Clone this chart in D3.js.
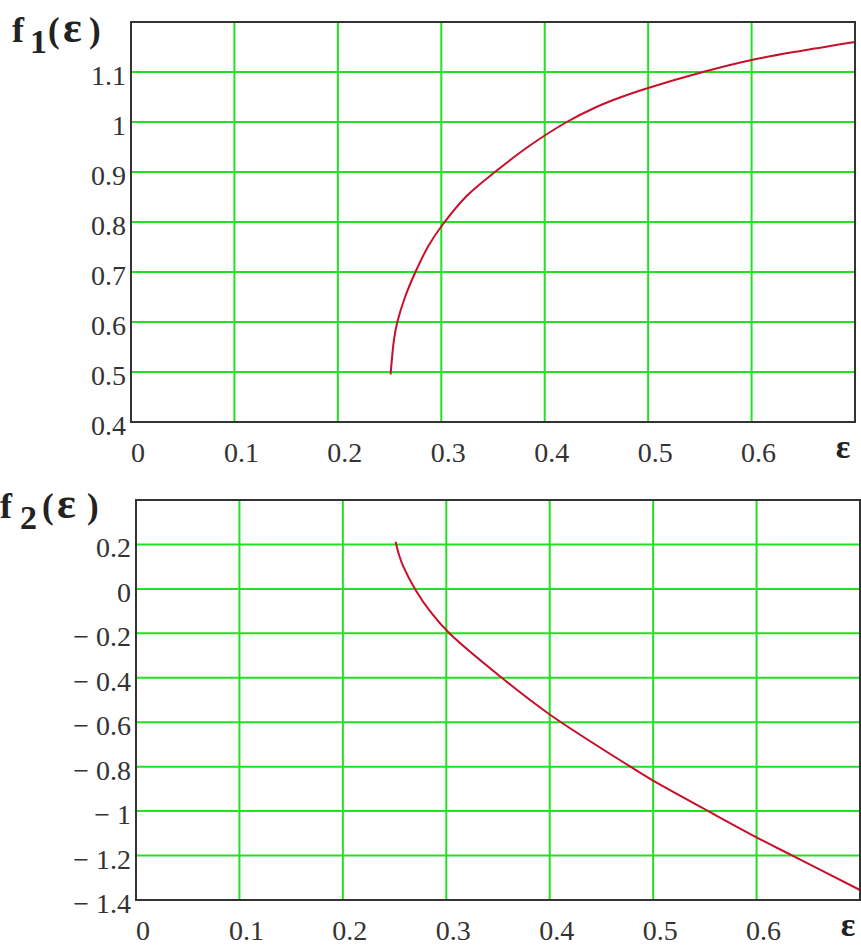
<!DOCTYPE html>
<html><head><meta charset="utf-8">
<script src="https://cdn.jsdelivr.net/npm/d3@7"></script>
<style>body{margin:0;background:#fff}</style>
</head><body><svg id="c" width="861" height="946"></svg>
<script>
// ---- data ----
const xTicks = [0, 0.1, 0.2, 0.3, 0.4, 0.5, 0.6];
const xTickLabels = ["0", "0.1", "0.2", "0.3", "0.4", "0.5", "0.6"];
const xAxisName = "ε";

const f1Eps  = [0.251, 0.2543, 0.2575, 0.265, 0.275, 0.2875, 0.3014, 0.325, 0.3519, 0.385, 0.4213, 0.45, 0.4728, 0.5, 0.553, 0.6, 0.65, 0.7];
const f1Vals = [0.495, 0.565, 0.6, 0.65, 0.7, 0.752, 0.795, 0.853, 0.9, 0.952, 1.0, 1.03, 1.049, 1.068, 1.1, 1.124, 1.143, 1.16];
const f1YTicks = [0.4, 0.5, 0.6, 0.7, 0.8, 0.9, 1, 1.1];

const f2Eps  = [0.251, 0.2545, 0.2585, 0.2697, 0.285, 0.303, 0.3536, 0.4, 0.478, 0.5, 0.5533, 0.6, 0.6323, 0.7];
const f2Vals = [0.212, 0.15, 0.1, 0.0, -0.105, -0.2, -0.4, -0.565, -0.8, -0.863, -1.0, -1.118, -1.195, -1.355];
const f2YTicks = [-1.4, -1.2, -1, -0.8, -0.6, -0.4, -0.2, 0, 0.2];

// ---- drawing ----
const svg = d3.select("#c");
const serif = "'Liberation Serif','Times New Roman',serif";

function fmt(v){
  if (v < 0) return "\u2212 " + d3.format("~g")(-v);
  return d3.format("~g")(v);
}

function panel(cfg){
  const x = d3.scaleLinear().domain([0, 0.7]).range([cfg.left, cfg.right]);
  const y = d3.scaleLinear().domain(cfg.yDomain).range([cfg.bottom, cfg.top]);
  const g = svg.append("g");

  // grid
  g.selectAll("line.vg").data(xTicks.filter(t => t > 0)).join("line")
    .attr("x1", d => x(d)).attr("x2", d => x(d))
    .attr("y1", cfg.top).attr("y2", cfg.bottom)
    .attr("stroke", "#22e022").attr("stroke-width", 2);
  g.selectAll("line.hg").data(cfg.yTicks.filter(t => t > cfg.yDomain[0] && t < cfg.yDomain[1])).join("line")
    .attr("x1", cfg.left).attr("x2", cfg.right)
    .attr("y1", d => y(d)).attr("y2", d => y(d))
    .attr("stroke", "#22e022").attr("stroke-width", 2);

  // curve
  const pts = cfg.eps.map((e, i) => [e, cfg.vals[i]]);
  g.append("path").datum(pts)
    .attr("fill", "none").attr("stroke", "#c8102a").attr("stroke-width", 2)
    .attr("d", d3.line().x(d => x(d[0])).y(d => y(d[1])).curve(d3.curveCatmullRom.alpha(0.5)));

  // frame
  g.append("rect").attr("x", cfg.left).attr("y", cfg.top)
    .attr("width", cfg.right - cfg.left).attr("height", cfg.bottom - cfg.top)
    .attr("fill", "none").attr("stroke", "#333").attr("stroke-width", 2);

  // y tick labels
  g.selectAll("text.yl").data(cfg.yTicks).join("text")
    .attr("x", cfg.left - 5).attr("y", d => y(d) + 13)
    .attr("text-anchor", "end").attr("font-family", serif).attr("font-size", 28)
    .attr("fill", "#333").text(d => fmt(d));

  // x tick labels
  g.selectAll("text.xl").data(xTicks).join("text")
    .attr("x", (d) => x(d) + 7).attr("y", cfg.bottom + 40)
    .attr("text-anchor", "middle").attr("font-family", serif).attr("font-size", 28)
    .attr("fill", "#333").text((d, i) => xTickLabels[i]);

  // x axis name
  g.append("text").attr("x", cfg.right - 12).attr("y", cfg.bottom + 36)
    .attr("text-anchor", "middle").attr("font-family", serif).attr("font-weight", "bold")
    .attr("font-size", 34).attr("fill", "#222").text(xAxisName);

  // y axis name f_n(ε)
  const t = g.append("text").attr("font-family", serif).attr("font-weight", "bold").attr("fill", "#222");
  const L = cfg.label;
  t.append("tspan").attr("x", L.fx).attr("y", L.base).attr("font-size", 36).text("f");
  t.append("tspan").attr("x", L.sx).attr("y", L.base + 11).attr("font-size", 34).text(L.sub);
  t.append("tspan").attr("x", L.px).attr("y", L.base).attr("font-size", 35).text("(");
  t.append("tspan").attr("x", L.ex).attr("y", L.base).attr("font-size", 44).text("ε");
  t.append("tspan").attr("x", L.qx).attr("y", L.base).attr("font-size", 35).text(")");
}

panel({left: 131, right: 855, top: 22, bottom: 422, yDomain: [0.4, 1.2],
  yTicks: f1YTicks, eps: f1Eps, vals: f1Vals,
  label: {fx: 12, sx: 30, px: 48, ex: 63, qx: 89, base: 42, sub: "1"}});

panel({left: 136, right: 860, top: 500, bottom: 900, yDomain: [-1.4, 0.4],
  yTicks: f2YTicks, eps: f2Eps, vals: f2Vals,
  label: {fx: 0, sx: 20, px: 42, ex: 57, qx: 87, base: 518, sub: "2"}});
</script>
</body></html>
